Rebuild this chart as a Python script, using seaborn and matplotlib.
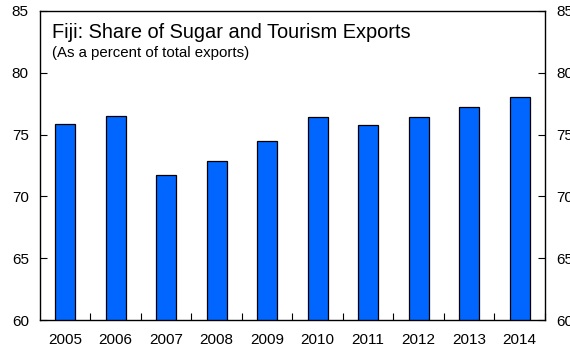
import matplotlib
matplotlib.use("Agg")
import matplotlib.pyplot as plt
import seaborn as sns
import pandas as pd
import numpy as np

# data
years = ["2005", "2006", "2007", "2008", "2009", "2010", "2011", "2012", "2013", "2014"]
share = [75.85, 76.5, 71.7, 72.9, 74.5, 76.4, 75.75, 76.4, 77.2, 78.05]
y_ticks = [60, 65, 70, 75, 80, 85]

df = pd.DataFrame({"year": years, "share": share})

sns.set_style("white")
plt.rcParams["font.family"] = ["Liberation Sans", "DejaVu Sans"]
plt.rcParams["text.color"] = "black"
plt.rcParams["xtick.color"] = "black"
plt.rcParams["ytick.color"] = "black"

fig = plt.figure(figsize=(5.7, 3.51), dpi=100)
ax = fig.add_axes([0.070, 0.088, 0.886, 0.881])

sns.barplot(data=df, x="year", y="share", color="#0066FF", width=0.4,
            edgecolor="black", linewidth=0.9, saturation=1, ax=ax)

ax.set_ylim(60, 85)
ax.set_xlim(-0.5, len(years) - 0.5)
ax.set_yticks(y_ticks)
ax.set_xlabel("")
ax.set_ylabel("")

for s in ax.spines.values():
    s.set_color("black")
    s.set_linewidth(1.0)

# right-hand copy of the y axis
ax.tick_params(axis="y", direction="in", length=5, width=0.8, labelsize=11,
               left=True, right=True, labelleft=True, labelright=True, pad=8,
               colors="black")
ax.tick_params(axis="x", length=0, labelsize=11, pad=9, colors="black")
ax.set_xticks(np.arange(len(years)) + 0.5, minor=True)
ax.tick_params(axis="x", which="minor", direction="in", length=5, width=0.8, bottom=True)

ax.text(0.024, 0.93, "Fiji: Share of Sugar and Tourism Exports", transform=ax.transAxes,
        fontsize=14.4, va="center", ha="left", color="black")
ax.text(0.024, 0.865, "(As a percent of total exports)", transform=ax.transAxes,
        fontsize=10.8, va="center", ha="left", color="black")

fig.savefig("out.png", dpi=100)
